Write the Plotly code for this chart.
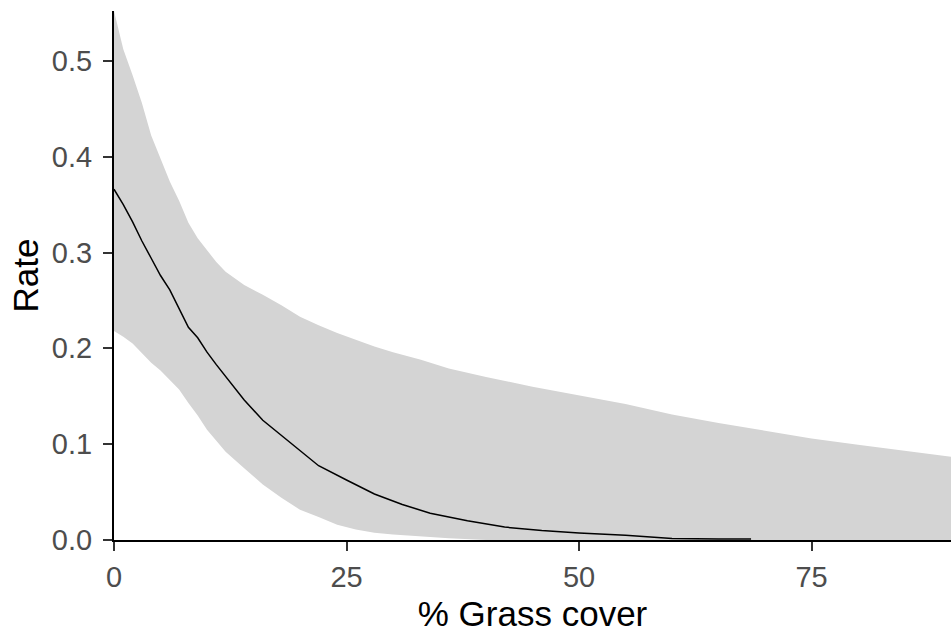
import plotly.graph_objects as go

# Confidence band (x, lower, upper)
band_x = [0, 1, 2, 3, 4, 5, 6, 7, 8, 9, 10, 11, 12, 14, 16, 18, 20, 22, 24, 26, 28, 30,
          33, 36, 40, 45, 50, 55, 60, 65, 70, 75, 80, 85, 90]
band_upper = [0.552, 0.512, 0.485, 0.456, 0.422, 0.399, 0.374, 0.354, 0.331, 0.315, 0.302,
              0.290, 0.280, 0.266, 0.256, 0.245, 0.233, 0.224, 0.216, 0.209, 0.202, 0.196,
              0.188, 0.179, 0.170, 0.160, 0.151, 0.142, 0.131, 0.122, 0.114, 0.106, 0.0995,
              0.0935, 0.087]
band_lower = [0.218, 0.212, 0.205, 0.195, 0.185, 0.177, 0.167, 0.157, 0.143, 0.130, 0.115,
              0.104, 0.092, 0.075, 0.058, 0.044, 0.0315, 0.024, 0.016, 0.011, 0.0075, 0.0058,
              0.0035, 0.0018, 0.0, 0.0, 0.0, 0.0, 0.0, 0.0, 0.0, 0.0, 0.0, 0.0, 0.0]

# Fitted rate
line_x = [0, 1, 2, 3, 4, 5, 6, 7, 8, 9, 10, 11, 12, 14, 16, 18, 20, 22, 25, 28, 31, 34,
          38, 42, 46, 50, 55, 60, 65, 68.5]
line_y = [0.366, 0.350, 0.332, 0.312, 0.294, 0.276, 0.261, 0.241, 0.222, 0.211, 0.196,
          0.183, 0.171, 0.146, 0.125, 0.109, 0.094, 0.0775, 0.0626, 0.048, 0.037, 0.028,
          0.020, 0.0135, 0.0098, 0.0073, 0.005, 0.0015, 0.001, 0.001]

x_ticks = [0, 25, 50, 75]
y_ticks = [0.0, 0.1, 0.2, 0.3, 0.4, 0.5]
y_ticklabels = ["0.0", "0.1", "0.2", "0.3", "0.4", "0.5"]

FONT = "Liberation Sans, Arial, sans-serif"

fig = go.Figure()
fig.add_trace(go.Scatter(x=band_x, y=band_lower, mode="lines", line=dict(width=0),
                         hoverinfo="skip", showlegend=False))
fig.add_trace(go.Scatter(x=band_x, y=band_upper, mode="lines", line=dict(width=0),
                         fill="tonexty", fillcolor="#D4D4D4", showlegend=False))
fig.add_trace(go.Scatter(x=line_x, y=line_y, mode="lines",
                         line=dict(color="black", width=1.5), showlegend=False))

axis_common = dict(
    showgrid=False, zeroline=False, showline=True, linecolor="black", linewidth=2,
    ticks="outside", ticklen=9, tickwidth=2, tickcolor="#333333",
    tickfont=dict(family=FONT, size=29, color="#4D4D4D"),
)

fig.update_layout(
    width=951, height=633,
    margin=dict(l=114, r=0, t=11, b=93),
    paper_bgcolor="white", plot_bgcolor="white",
    font=dict(family=FONT),
    xaxis=dict(range=[0, 90], tickvals=x_ticks, ticktext=[str(v) for v in x_ticks],
               ticklabelstandoff=1,
               title=dict(text="% Grass cover", font=dict(family=FONT, size=35, color="black"),
                          standoff=11),
               **axis_common),
    yaxis=dict(range=[0, 0.552], tickvals=y_ticks, ticktext=y_ticklabels,
               ticklabelstandoff=5,
               title=dict(text="Rate", font=dict(family=FONT, size=35, color="black"),
                          standoff=3),
               **axis_common),
)

fig.write_html("out.html")
